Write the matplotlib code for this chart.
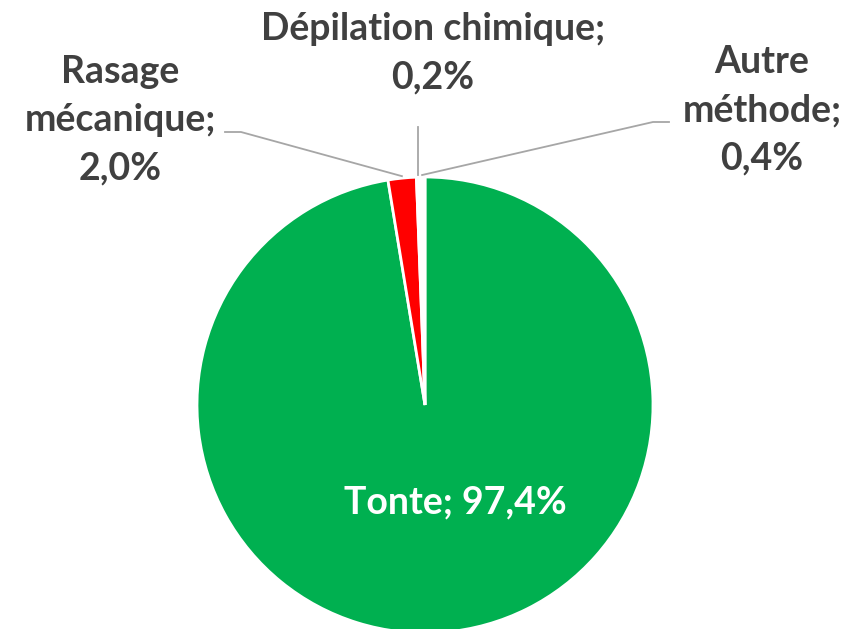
import numpy as np
import matplotlib
matplotlib.use('Agg')
import matplotlib.pyplot as plt

# donnees du graphique (sens horaire depuis midi)
methodes = ['Tonte', 'Rasage\nmécanique', 'Dépilation chimique', 'Autre\nméthode']
parts = [97.4, 2.0, 0.2, 0.4]
couleurs = ['#00B050', '#FF0000', '#FFE699', '#FFFFFF']

W, H = 851, 629
fig = plt.figure(figsize=(W / 100, H / 100), dpi=100)
ax = fig.add_axes([0, 0, 1, 1])

cx, cy, r = 425, H - 405, 228

wedges, _ = ax.pie(parts, colors=couleurs, startangle=90, counterclock=False,
                   center=(cx, cy), radius=r, frame=True,
                   wedgeprops=dict(edgecolor='white', linewidth=2))
ax.set_xlim(0, W)
ax.set_ylim(0, H)
ax.set_aspect('equal')
ax.axis('off')

police = dict(family=['Lato', 'DejaVu Sans'], fontweight='bold', fontsize=27)
gris = '#404040'

def fmt(v):
    return ('%.1f%%' % v).replace('.', ',')

# etiquette interne pour Tonte
ax.text(cx + 30, H - 502, methodes[0] + '; ' + fmt(parts[0]), color='white',
        ha='center', va='center', **police)

# etiquettes externes: position du texte, depart du trait
positions = {1: ((120, H - 120), [(225, H - 132), (241, H - 132)]),
             2: ((433, H - 53), [(418, H - 127)]),
             3: ((762, H - 110), [(669, H - 122), (653, H - 122)])}

for i, (pos, trait) in positions.items():
    w = wedges[i]
    ang = np.deg2rad((w.theta1 + w.theta2) / 2)
    bord = (cx + (r + 2) * np.cos(ang), cy + (r + 2) * np.sin(ang))
    pts = trait + [bord]
    if i == 2:
        pts = [(bord[0], trait[0][1]), bord]
    xs, ys = zip(*pts)
    ax.plot(xs, ys, color='#A6A6A6', lw=1.3, zorder=1)
    ax.text(pos[0], pos[1], methodes[i] + ';\n' + fmt(parts[i]), color=gris,
            ha='center', va='center', linespacing=1.5, **police)

fig.savefig('out.png', dpi=100)
